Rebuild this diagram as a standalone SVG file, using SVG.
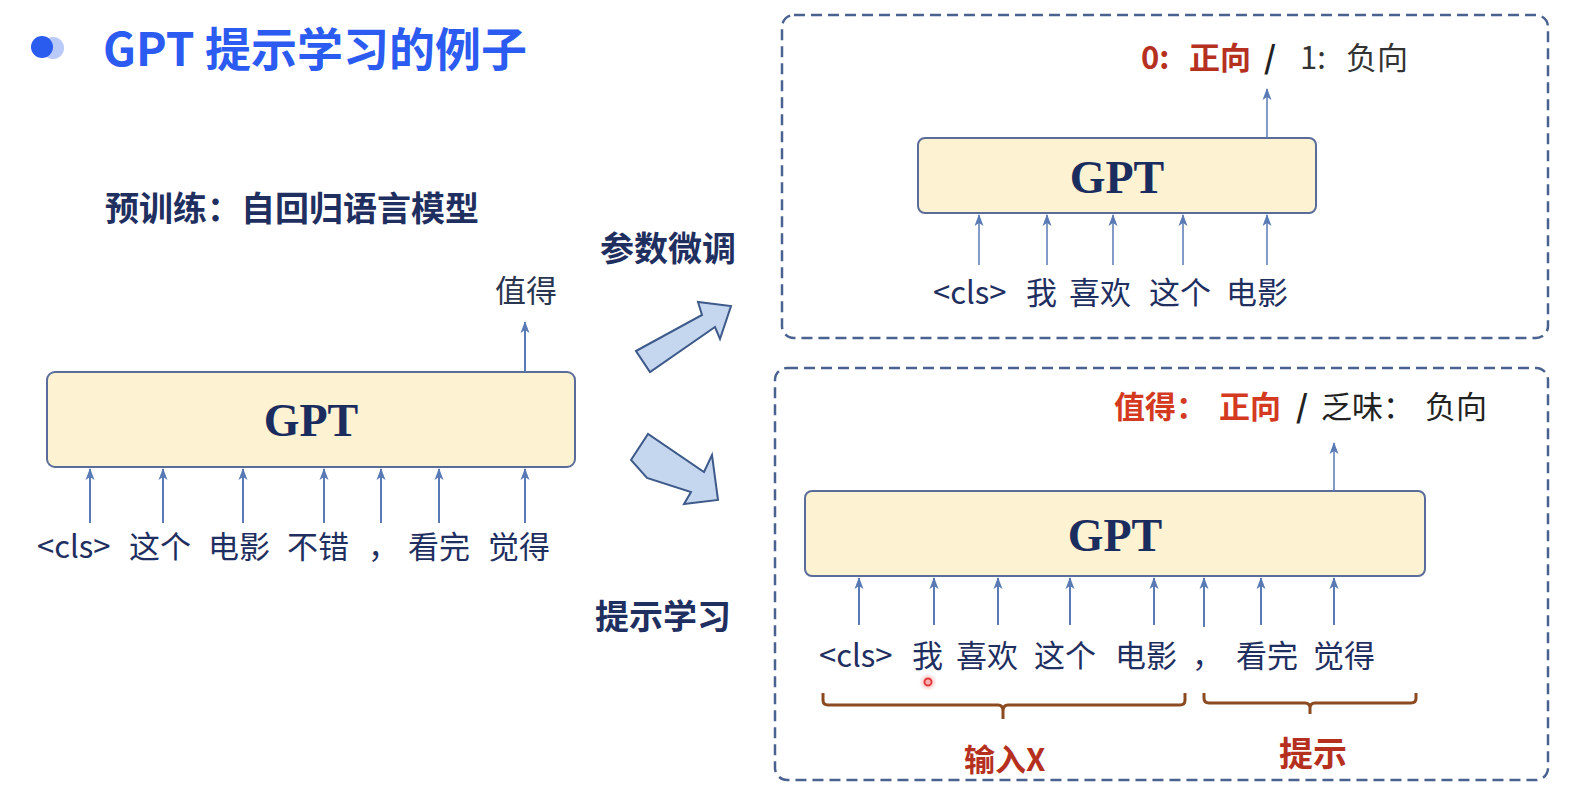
<svg xmlns="http://www.w3.org/2000/svg" width="1586" height="800" viewBox="0 0 1586 800">
<defs>
<style>
.cjk{font-family:"Noto Sans CJK SC","Liberation Sans",sans-serif;}
.title{font-size:46px;font-weight:700;fill:#2b5bf0;}
.head{font-size:34px;font-weight:700;fill:#1f2f5f;}
.tok{font-size:31px;fill:#1f2f5f;}
.gpt{font-family:"Liberation Serif","Times New Roman",serif;font-weight:700;font-size:46px;fill:#1a2d5e;text-anchor:middle;}
.box{fill:#fdf2d2;stroke:#5a6d9a;stroke-width:2;}
.dash{fill:none;stroke:#4a6290;stroke-width:2.5;stroke-dasharray:11 6;}
.ar{stroke:#5a7ab5;stroke-width:2;fill:none;marker-end:url(#ah);}
.big{fill:#c5d6ef;stroke:#3d5a8a;stroke-width:2;stroke-linejoin:miter;}
.brace{fill:none;stroke:#8b4a20;stroke-width:3;}
.red{fill:#b5301e;}
.red2{fill:#d33a1f;}
.dark{fill:#222;}
</style>
<marker id="ah" viewBox="0 0 12 10" refX="11" refY="5" markerWidth="12" markerHeight="10" orient="auto" markerUnits="userSpaceOnUse">
<path d="M0,0.5 L12,5 L0,9.5 L3,5 Z" fill="#5a7ab5"/>
</marker>
<radialGradient id="glow"><stop offset="0" stop-color="#ff6a6a" stop-opacity="0.6"/><stop offset="1" stop-color="#ff6a6a" stop-opacity="0"/></radialGradient>
</defs>
<rect width="1586" height="800" fill="#ffffff"/>

<g id="title">
<circle cx="53" cy="48" r="11" fill="#b9c9f8"/>
<circle cx="42" cy="47" r="11" fill="#2b5cf0"/>
<text class="cjk title" x="103" y="66">GPT 提示学习的例子</text>
</g>

<g id="pretrain-label"><text class="cjk head" x="105" y="221">预训练：自回归语言模型</text></g>
<g id="finetune-label"><text class="cjk head" x="600" y="261">参数微调</text></g>
<g id="prompt-label"><text class="cjk head" x="595" y="629">提示学习</text></g>

<g id="gpt-left">
<rect class="box" x="47" y="372" width="528" height="95" rx="8"/>
<text class="gpt" x="311" y="436">GPT</text>
</g>
<g id="out-left"><text class="cjk tok" x="495" y="302" style="fill:#2a3550">值得</text></g>
<g id="tokens-left">
<text class="cjk tok" x="37" y="558">&lt;cls&gt;</text>
<text class="cjk tok" x="129" y="558">这个</text>
<text class="cjk tok" x="208" y="558">电影</text>
<text class="cjk tok" x="287" y="558">不错</text>
<text class="cjk tok" x="368" y="558">，</text>
<text class="cjk tok" x="408" y="558">看完</text>
<text class="cjk tok" x="488" y="558">觉得</text>
</g>

<g id="big-arrows">
<polygon class="big" points="636,351 702,315 698,302 731,306 720,339 715,327 650,372"/>
<polygon class="big" points="631,460 648,434 704,472 712,455 718,500 684,504 691,492 647,478"/>
</g>

<g id="finetune-panel">
<rect class="dash" x="782" y="15" width="766" height="323" rx="12"/>
<rect class="box" x="918" y="138" width="398" height="75" rx="7"/>
<text class="gpt" x="1117" y="193">GPT</text>
<text class="cjk" x="1141" y="69" font-size="31"><tspan class="red" font-weight="700">0:</tspan><tspan class="red" font-weight="700" x="1189">正向</tspan><tspan class="dark" font-weight="700" x="1264">/</tspan><tspan fill="#333" x="1300">1:</tspan><tspan fill="#333" x="1346">负向</tspan></text>
<text class="cjk tok" x="933" y="304">&lt;cls&gt;</text>
<text class="cjk tok" x="1026" y="304">我</text>
<text class="cjk tok" x="1069" y="304">喜欢</text>
<text class="cjk tok" x="1149" y="304">这个</text>
<text class="cjk tok" x="1226" y="304">电影</text>
</g>

<g id="prompt-panel">
<rect class="dash" x="775" y="368" width="773" height="412" rx="12"/>
<rect class="box" x="805" y="491" width="620" height="85" rx="7"/>
<text class="gpt" x="1115" y="551">GPT</text>
<text class="cjk" x="1114" y="418" font-size="31"><tspan class="red2" font-weight="700">值得：</tspan><tspan class="red2" font-weight="700" x="1219">正向</tspan><tspan class="dark" font-weight="700" x="1296">/</tspan><tspan fill="#222" x="1321">乏味：</tspan><tspan fill="#222" x="1425">负向</tspan></text>
<text class="cjk tok" x="819" y="667">&lt;cls&gt;</text>
<text class="cjk tok" x="912" y="667">我</text>
<text class="cjk tok" x="956" y="667">喜欢</text>
<text class="cjk tok" x="1034" y="667">这个</text>
<text class="cjk tok" x="1115" y="667">电影</text>
<text class="cjk tok" x="1192" y="667">，</text>
<text class="cjk tok" x="1236" y="667">看完</text>
<text class="cjk tok" x="1313" y="667">觉得</text>
<path class="brace" d="M823,693 L823,700 Q823,705 828,705 L998,705 Q1003,705 1003,711 L1003,719 M1003,711 Q1003,705 1008,705 L1180,705 Q1185,705 1185,700 L1185,693"/>
<path class="brace" d="M1204,693 L1204,698 Q1204,703 1209,703 L1305,703 Q1310,703 1310,708 L1310,714 M1310,708 Q1310,703 1315,703 L1411,703 Q1416,703 1416,698 L1416,693"/>
<text class="cjk red" x="964" y="771" font-size="31" font-weight="700">输入X</text>
<text class="cjk red" x="1279" y="766" font-size="34" font-weight="700">提示</text>
<circle cx="928" cy="682" r="9" fill="url(#glow)"/>
<circle cx="928" cy="682" r="3.5" fill="none" stroke="#e03a3a" stroke-width="2"/>
</g>

<g id="connectors">
<line class="ar" x1="525" y1="372" x2="525" y2="322"/>
<line class="ar" x1="90" y1="523" x2="90" y2="469"/>
<line class="ar" x1="163" y1="523" x2="163" y2="469"/>
<line class="ar" x1="243" y1="523" x2="243" y2="469"/>
<line class="ar" x1="324" y1="523" x2="324" y2="469"/>
<line class="ar" x1="381" y1="523" x2="381" y2="469"/>
<line class="ar" x1="439" y1="523" x2="439" y2="469"/>
<line class="ar" x1="525" y1="523" x2="525" y2="469"/>
<line class="ar" x1="1267" y1="138" x2="1267" y2="89" style="stroke-width:1.5"/>
<line class="ar" x1="979" y1="265" x2="979" y2="215" style="stroke-width:1.5"/>
<line class="ar" x1="1047" y1="265" x2="1047" y2="215" style="stroke-width:1.5"/>
<line class="ar" x1="1113" y1="265" x2="1113" y2="215" style="stroke-width:1.5"/>
<line class="ar" x1="1183" y1="265" x2="1183" y2="215" style="stroke-width:1.5"/>
<line class="ar" x1="1267" y1="265" x2="1267" y2="215" style="stroke-width:1.5"/>
<line class="ar" x1="1334" y1="491" x2="1334" y2="443" style="stroke-width:1.5"/>
<line class="ar" x1="859" y1="625" x2="859" y2="578"/>
<line class="ar" x1="934" y1="625" x2="934" y2="578"/>
<line class="ar" x1="998" y1="625" x2="998" y2="578"/>
<line class="ar" x1="1070" y1="625" x2="1070" y2="578"/>
<line class="ar" x1="1154" y1="625" x2="1154" y2="578"/>
<line class="ar" x1="1204" y1="627" x2="1204" y2="578"/>
<line class="ar" x1="1261" y1="625" x2="1261" y2="578"/>
<line class="ar" x1="1334" y1="625" x2="1334" y2="578"/>
</g>
</svg>
